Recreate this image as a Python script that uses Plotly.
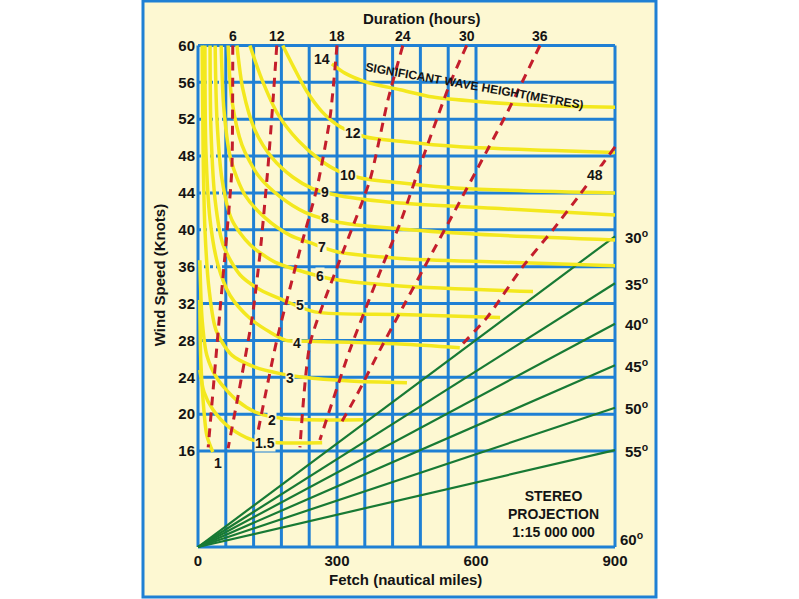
import plotly.graph_objects as go

# grid / axes
grid_fetch = [0, 60, 120, 180, 240, 300, 360, 420, 480, 540, 600, 900]
grid_speed = [16, 20, 24, 28, 32, 36, 40, 44, 48, 52, 56, 60]
dotted_speed = [36, 40, 44, 48, 52, 56]
fetch_ticks = [0, 300, 600, 900]
speed_floor = 5.58  # bottom edge of the stereo panel

# significant wave height isolines (fetch nm, wind kn)
h1_f = [4, 6, 11, 19, 32]
h1_u = [32.4, 25.9, 21.5, 17.7, 15.9]
h15_f = [4, 13, 32, 69, 117, 173, 268]
h15_u = [24.8, 22.4, 20.5, 18.5, 17.2, 16.9, 16.9]
h2_f = [4, 9, 19, 41, 84, 130, 188, 356]
h2_u = [36.7, 30.2, 26.4, 23.9, 21.5, 20.1, 19.5, 19.4]
h3_f = [9, 11, 15, 24, 39, 73, 123, 177, 227, 328, 451]
h3_u = [60, 48.7, 40.0, 33.5, 29.1, 26.4, 25.1, 24.4, 24.0, 23.6, 23.4]
h4_f = [15, 17, 26, 43, 69, 112, 155, 190, 242, 436, 565]
h4_u = [60, 48.7, 41.1, 36.2, 32.9, 30.4, 28.9, 28.0, 27.9, 27.6, 27.2]
h5_f = [26, 28, 37, 54, 91, 134, 183, 252, 436, 652]
h5_u = [60, 50.8, 43.2, 38.4, 35.1, 33.5, 32.4, 31.1, 30.8, 30.5]
h6_f = [37, 41, 52, 73, 112, 166, 231, 296, 436, 723]
h6_u = [60, 51.9, 45.4, 41.1, 38.4, 36.5, 35.4, 34.6, 33.9, 33.3]
h7_f = [50, 56, 71, 101, 145, 199, 242, 302, 436, 652, 900]
h7_u = [60, 53.0, 47.6, 43.8, 41.3, 39.4, 38.6, 37.6, 36.9, 36.5, 36.1]
h8_f = [65, 73, 95, 130, 177, 231, 306, 436, 652, 900]
h8_u = [60, 54.1, 49.2, 45.9, 43.6, 41.9, 40.8, 40.1, 39.4, 38.9]
h9_f = [84, 97, 123, 160, 205, 246, 306, 436, 652, 900]
h9_u = [60, 55.2, 50.8, 47.8, 45.7, 44.5, 43.7, 42.9, 42.3, 41.6]
h10_f = [112, 138, 173, 216, 263, 302, 354, 436, 565, 900]
h10_u = [60, 56.3, 52.5, 49.7, 47.6, 46.4, 45.6, 45.1, 44.5, 44.0]
h12_f = [183, 207, 235, 268, 306, 360, 436, 565, 900]
h12_u = [60, 57.6, 55.0, 52.8, 51.2, 50.1, 49.6, 49.0, 48.4]
h14_f = [289, 317, 365, 436, 507, 609, 738, 900]
h14_u = [58.0, 57.0, 56.0, 55.2, 54.4, 53.9, 53.5, 53.3]

height_names = ["1", "1.5", "2", "3", "4", "5", "6", "7", "8", "9", "10", "12", "14"]
height_label_f = [43, 145, 160, 199, 214, 220, 263, 268, 274, 274, 324, 334, 268]
height_label_u = [14.7, 16.9, 19.4, 23.9, 27.7, 31.8, 35.0, 38.1, 41.3, 44.1, 46.0, 50.5, 58.5]

# duration isolines (hours)
d6_f = [75, 73, 63, 47, 22]
d6_u = [60, 46.5, 40.0, 31.0, 16.4]
d12_f = [170, 162, 151, 134, 117, 91, 65]
d12_u = [60, 54.1, 46.8, 37.5, 30.5, 23.2, 16.3]
d18_f = [300, 285, 257, 220, 170, 127]
d18_u = [60, 52.2, 44.6, 37.8, 28.0, 17.5]
d24_f = [442, 410, 371, 306, 242, 220]
d24_u = [60, 54.1, 45.4, 36.7, 27.7, 16.4]
d30_f = [580, 544, 486, 436, 399, 328, 263]
d30_u = [60, 55.9, 47.9, 40.7, 36.2, 27.0, 17.2]
d36_f = [738, 667, 609, 544, 501, 442, 393, 343, 306]
d36_u = [60, 52.7, 47.2, 41.1, 37.1, 31.6, 27.0, 22.1, 18.8]
d48_f = [900, 824, 766, 701, 624, 565]
d48_u = [49.0, 43.8, 40.0, 36.0, 30.5, 27.3]
duration_top = ["6", "12", "18", "24", "30", "36"]

# stereo projection latitude lines, wind value at fetch 900
stereo_lat = [30, 35, 40, 45, 50, 55]
stereo_end = [39.3, 34.2, 29.8, 25.3, 20.7, 16.1]

BLUE = "#1f80d4"
CREAM = "#fdf8d2"
YELLOW = "#f3e81e"
RED = "#c41e2c"
GREEN = "#187a34"
INK = "#141414"
FONT = "Liberation Sans, Arial, sans-serif"


def label_font(size):
    return dict(size=size, color=INK, family=FONT)


fig = go.Figure()

# grid
for f in grid_fetch:
    fig.add_shape(type="line", x0=f, x1=f, y0=speed_floor, y1=60,
                  line=dict(color=BLUE, width=3), layer="below")
for s in grid_speed:
    if s in dotted_speed:
        fig.add_shape(type="line", x0=0, x1=60, y0=s, y1=s,
                      line=dict(color=BLUE, width=3, dash="dot"), layer="below")
        fig.add_shape(type="line", x0=60, x1=900, y0=s, y1=s,
                      line=dict(color=BLUE, width=3), layer="below")
    else:
        fig.add_shape(type="line", x0=0, x1=900, y0=s, y1=s,
                      line=dict(color=BLUE, width=3), layer="below")
fig.add_shape(type="line", x0=0, x1=900, y0=speed_floor, y1=speed_floor,
              line=dict(color=BLUE, width=3), layer="below")

# stereo lines
for lat, end in zip(stereo_lat, stereo_end):
    fig.add_trace(go.Scatter(x=[0, 900], y=[speed_floor, end], mode="lines",
                             line=dict(color=GREEN, width=2.2),
                             hoverinfo="skip", showlegend=False))
    fig.add_annotation(x=900, y=end, text=f"<b>{lat}<sup>o</sup></b>", showarrow=False,
                       xanchor="left", yanchor="middle", xshift=8, font=label_font(15))
fig.add_annotation(x=900, y=speed_floor, text="<b>60<sup>o</sup></b>", showarrow=False,
                   xanchor="left", yanchor="middle", xshift=3, yshift=9, font=label_font(15))

# wave height curves
wave_curves = [(h1_f, h1_u), (h15_f, h15_u), (h2_f, h2_u), (h3_f, h3_u), (h4_f, h4_u),
               (h5_f, h5_u), (h6_f, h6_u), (h7_f, h7_u), (h8_f, h8_u), (h9_f, h9_u),
               (h10_f, h10_u), (h12_f, h12_u), (h14_f, h14_u)]
for xs, ys in wave_curves:
    fig.add_trace(go.Scatter(x=xs, y=ys, mode="lines",
                             line=dict(color=YELLOW, width=3.5, shape="spline", smoothing=0.8),
                             hoverinfo="skip", showlegend=False))

# duration curves
dur_curves = [(d6_f, d6_u), (d12_f, d12_u), (d18_f, d18_u), (d24_f, d24_u),
              (d30_f, d30_u), (d36_f, d36_u), (d48_f, d48_u)]
for xs, ys in dur_curves:
    fig.add_trace(go.Scatter(x=xs, y=ys, mode="lines",
                             line=dict(color=RED, width=3, dash="9px,7px", shape="spline", smoothing=0.6),
                             hoverinfo="skip", showlegend=False))
for name, (xs, ys) in zip(duration_top, dur_curves):
    fig.add_annotation(x=xs[0], y=1.0, yref="paper", xanchor="center", yanchor="middle", yshift=7,
                       text=f"<b>{name}</b>", showarrow=False, font=label_font(14))
fig.add_annotation(x=857, y=45.9, text="<b>48</b>", showarrow=False, bgcolor=CREAM,
                   xanchor="center", yanchor="middle", borderpad=0, font=label_font(14))

# wave height labels
for name, lf, lu in zip(height_names, height_label_f, height_label_u):
    fig.add_annotation(x=lf, y=lu, text=f"<b>{name}</b>", showarrow=False,
                       xanchor="center", yanchor="middle", bgcolor=CREAM, borderpad=0,
                       font=label_font(14))

fig.add_annotation(x=596, y=55.6, text="<b>SIGNIFICANT WAVE HEIGHT(METRES)</b>",
                   showarrow=False, textangle=10, xanchor="center", yanchor="middle",
                   font=label_font(12))
fig.add_annotation(x=0.848, y=0.071, xref="paper", yref="paper",
                   text="<b>STEREO<br>PROJECTION<br>1:15 000 000</b>", showarrow=False,
                   align="center", xanchor="center", yanchor="middle", font=label_font(14))

# axis titles
fig.add_annotation(x=0.536, y=1.049, xref="paper", yref="paper", text="<b>Duration (hours)</b>",
                   showarrow=False, xanchor="center", yanchor="middle", font=label_font(15))
fig.add_annotation(x=0.498, y=-0.059, xref="paper", yref="paper", text="<b>Fetch (nautical miles)</b>",
                   showarrow=False, xanchor="center", yanchor="middle", font=label_font(15))
fig.add_annotation(x=-0.088, y=0.542, xref="paper", yref="paper", text="<b>Wind Speed (Knots)</b>",
                   showarrow=False, textangle=-90, xanchor="center", yanchor="middle",
                   font=label_font(15))

# outer frame
fig.add_shape(type="rect", xref="paper", yref="paper", x0=-0.1259, x1=1.0926, y0=-0.0927, y1=1.0828,
              line=dict(color=BLUE, width=3), fillcolor=CREAM, layer="below")

fig.update_layout(
    width=799, height=599,
    margin=dict(l=196, r=182, t=43, b=49),
    paper_bgcolor="white", plot_bgcolor=CREAM,
    font=dict(family=FONT, color=INK),
    xaxis=dict(range=[-4.32, 904.3], showgrid=False, zeroline=False, showline=False,
               tickvals=fetch_ticks, ticks="", tickfont=dict(size=15, weight="bold", color=INK)),
    yaxis=dict(range=[5.26, 60.27], showgrid=False, zeroline=False, showline=False,
               tickvals=grid_speed, ticks="", ticklabelstandoff=0,
               tickfont=dict(size=15, weight="bold", color=INK)),
)

fig.write_html("out.html", config={"displayModeBar": False},
               post_script="document.body.style.margin='0px';")
